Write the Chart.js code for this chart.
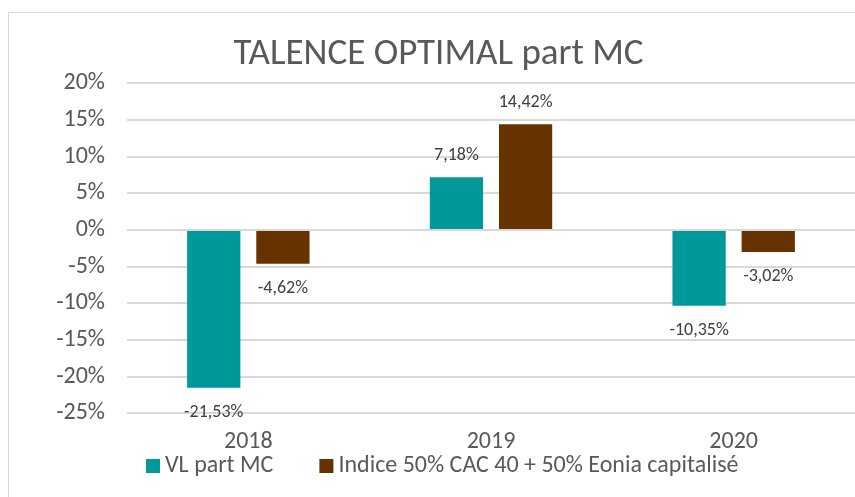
<!DOCTYPE html>
<html>
<head>
<meta charset="utf-8">
<script src="https://cdn.jsdelivr.net/npm/chart.js@4.4.1/dist/chart.umd.min.js"></script>
<style>
  html, body { margin: 0; padding: 0; background: #fff; overflow: hidden; }
  #frame { position: absolute; left: 8px; top: 12px; width: 1000px; height: 1000px; border: 1px solid #d9d9d9; }
  #chart { position: absolute; left: 0; top: 0; }
</style>
</head>
<body>
<div id="frame"></div>
<canvas id="chart" width="855" height="497"></canvas>
<script>
  // data
  const categories = ['2018', '2019', '2020'];
  const vlPartMC = [-21.53, 7.18, -10.35];
  const indiceMix = [-4.62, 14.42, -3.02];
  const seriesNames = ['VL part MC', 'Indice 50% CAC 40 + 50% Eonia capitalisé'];
  const seriesColors = ['#009999', '#663300'];
  const yMin = -25, yMax = 20, yStep = 5;

  const FONT = "Carlito, 'Open Sans', 'Noto Sans', sans-serif";
  const TEXT = '#595959';

  function frPct(v) {
    return v.toFixed(2).replace('.', ',') + '%';
  }

  // value labels above / below each bar
  const valueLabels = {
    id: 'valueLabels',
    afterDatasetsDraw(chart) {
      const ctx = chart.ctx;
      ctx.save();
      ctx.font = '18px ' + FONT;
      ctx.fillStyle = '#404040';
      ctx.textAlign = 'center';
      ctx.textBaseline = 'middle';
      chart.data.datasets.forEach((ds, i) => {
        chart.getDatasetMeta(i).data.forEach((bar, j) => {
          const v = ds.data[j];
          const y = v >= 0 ? bar.y - 22 : bar.y + 24.5;
          ctx.fillText(frPct(v), bar.x, y);
        });
      });
      ctx.restore();
    }
  };

  // legend drawn by hand: excel-like spacing (small gap box->text, wide gap between items)
  const bottomLegend = {
    id: 'bottomLegend',
    afterDraw(chart) {
      const ctx = chart.ctx;
      ctx.save();
      ctx.font = '24px ' + FONT;
      ctx.textBaseline = 'middle';
      ctx.textAlign = 'left';
      let x = 146;
      const y = 466;
      chart.data.datasets.forEach(ds => {
        ctx.fillStyle = ds.backgroundColor;
        ctx.fillRect(x, y - 7, 14, 14);
        ctx.fillStyle = TEXT;
        ctx.fillText(ds.label, x + 19, y);
        x += 19 + ctx.measureText(ds.label).width + 46;
      });
      ctx.restore();
    }
  };

  new Chart(document.getElementById('chart'), {
    type: 'bar',
    data: {
      labels: categories,
      datasets: [{
        label: seriesNames[0],
        data: vlPartMC,
        backgroundColor: seriesColors[0],
        categoryPercentage: 0.57,
        barPercentage: 0.77
      }, {
        label: seriesNames[1],
        data: indiceMix,
        backgroundColor: seriesColors[1],
        categoryPercentage: 0.57,
        barPercentage: 0.77
      }]
    },
    options: {
      responsive: false,
      animation: false,
      layout: { padding: { left: 22, right: 0, top: 0, bottom: 27 } },
      plugins: {
        title: {
          display: true,
          text: 'TALENCE OPTIMAL part MC',
          color: TEXT,
          font: { family: FONT, size: 37, weight: 'normal' },
          padding: { top: 33, bottom: 6 }
        },
        legend: { display: false },
        tooltip: { enabled: false }
      },
      scales: {
        x: {
          grid: { display: false, drawTicks: false },
          border: { display: false },
          ticks: { color: TEXT, font: { family: FONT, size: 24 }, padding: 14 }
        },
        y: {
          min: yMin,
          max: yMax,
          afterFit(scale) { scale.width = 105; },
          grid: { color: '#d9d9d9', lineWidth: 2, drawTicks: false },
          border: { display: false },
          ticks: {
            stepSize: yStep,
            color: TEXT,
            font: { family: FONT, size: 24 },
            padding: 22,
            callback: v => v + '%'
          }
        }
      }
    },
    plugins: [valueLabels, bottomLegend]
  });
</script>
</body>
</html>
